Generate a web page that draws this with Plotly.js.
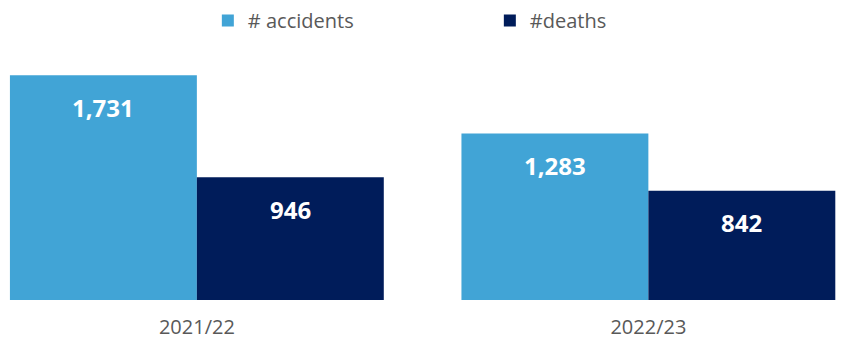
<!DOCTYPE html>
<html>
<head>
<meta charset="utf-8">
<script src="https://cdn.plot.ly/plotly-3.0.1.min.js"></script>
<style>html,body{margin:0;padding:0;background:#fff;}#chart{width:866px;height:345px;}</style>
</head>
<body>
<div id="chart"></div>
<script>
const categories = ["2021/22", "2022/23"];
const seriesNames = ["# accidents", "#deaths"];
const accidents = [1731, 1283];
const deaths = [946, 842];
const colors = ["#41A4D6", "#001C5A"];

const fmt = v => v.toLocaleString("en-US");

const traces = [
  {type: "bar", name: seriesNames[0], x: categories, y: accidents, marker: {color: colors[0]}, hoverinfo: "none"},
  {type: "bar", name: seriesNames[1], x: categories, y: deaths, marker: {color: colors[1]}, hoverinfo: "none"}
];

const annotations = [];
[accidents, deaths].forEach((vals, si) => {
  vals.forEach((v, i) => {
    annotations.push({
      x: categories[i], y: v, xref: "x", yref: "y",
      text: "<b>" + fmt(v) + "</b>", showarrow: false,
      xshift: si === 0 ? -93.5 : 93.5, yshift: -32,
      font: {family: "Open Sans, sans-serif", size: 24, color: "#ffffff"}
    });
  });
});

const layout = {
  width: 866, height: 345,
  margin: {l: 0, r: 0, t: 40, b: 45},
  paper_bgcolor: "#ffffff", plot_bgcolor: "#ffffff",
  barmode: "group", bargap: 0.172, bargroupgap: 0,
  showlegend: true,
  legend: {orientation: "h", x: 0.24, xanchor: "left", y: 1.0, yanchor: "bottom",
           entrywidth: 237, entrywidthmode: "pixels", itemwidth: 30,
           font: {family: "Open Sans, sans-serif", size: 20, color: "#595959"}},
  xaxis: {type: "category", range: [-0.436, 1.482], showgrid: false, zeroline: false, showline: false,
          ticks: "", ticklabelstandoff: 13,
          tickfont: {family: "Open Sans, sans-serif", size: 20, color: "#595959"}},
  yaxis: {range: [0, 2003], visible: false, showgrid: false, zeroline: false},
  annotations: annotations
};

Plotly.newPlot("chart", traces, layout, {displayModeBar: false, staticPlot: true});
</script>
</body>
</html>
